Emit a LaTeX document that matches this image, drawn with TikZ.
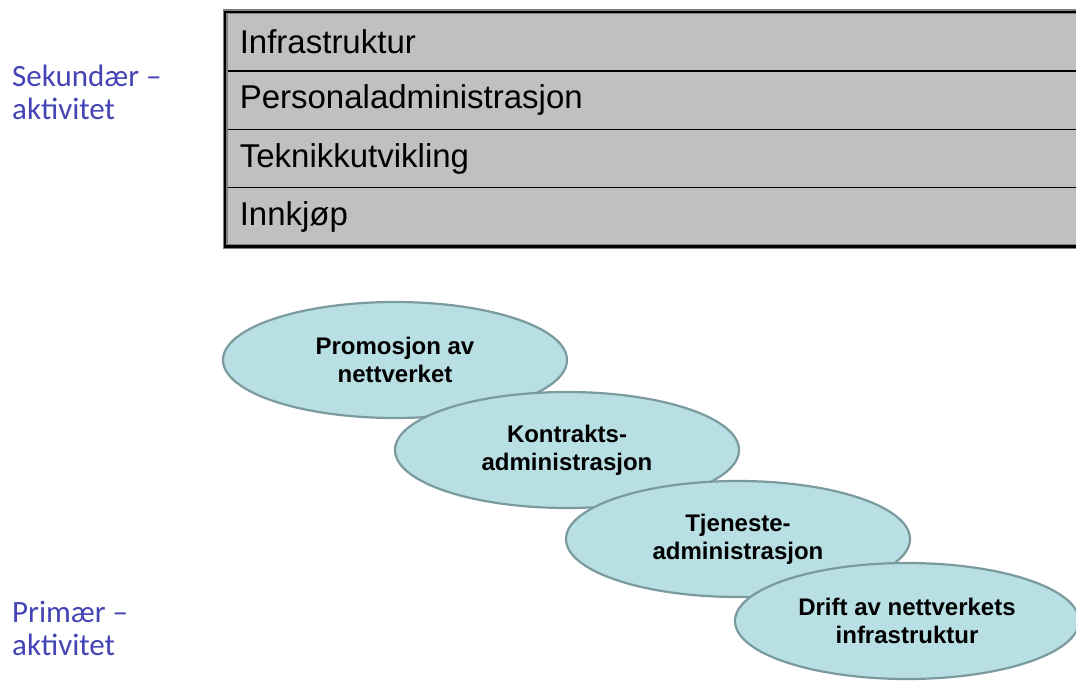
\documentclass[tikz,border=0pt]{standalone}
\usepackage{fontspec}
\setmainfont{Liberation Sans}
\newfontfamily\labelfont{Carlito}
\usetikzlibrary{shapes.geometric}

\definecolor{rowgray}{RGB}{192,192,192}
\definecolor{edgegray}{RGB}{128,128,128}
\definecolor{labelblue}{RGB}{68,68,182}
\definecolor{ovalfill}{RGB}{184,223,227}
\definecolor{ovaledge}{RGB}{122,154,158}

\tikzset{
  rowbox/.style={draw=black, line width=1.6pt, fill=rowgray, anchor=north west,
    minimum height=58.3pt, text width=880pt, inner xsep=14pt, inner ysep=0pt,
    align=left, font=\fontsize{33}{38}\selectfont},
  sidelabel/.style={anchor=north west, inner sep=0pt, align=left, text=labelblue,
    font=\labelfont\fontsize{31}{33}\selectfont},
  activity/.style={ellipse, draw=ovaledge, line width=2.2pt, fill=ovalfill,
    minimum width=344pt, minimum height=116pt, inner sep=0pt, align=center,
    font=\bfseries\fontsize{24}{28}\selectfont}
}

\begin{document}
\begin{tikzpicture}[x=1pt, y=-1pt]
  \clip (0,0) rectangle (1076,684);
  \fill[white] (0,0) rectangle (1076,684);

  % support activities
  \node[rowbox] (infra) at (225,12) {Infrastruktur};
  \node[rowbox] (hr)    at (225,70.3) {Personaladministrasjon};
  \node[rowbox] (tech)  at (225,128.6) {Teknikkutvikling};
  \node[rowbox] (buy)   at (225,186.9) {Innkjøp};
  \draw[edgegray, line width=5pt] (infra.north east) -- (infra.north west) -- (buy.south west) -- (buy.south east);
  \draw[black, line width=2.8pt] (infra.north east) -- (infra.north west) -- (buy.south west) -- (buy.south east);

  % side labels
  \node[sidelabel] (sek) at (12,65) {Sekundær –\\aktivitet};
  \node[sidelabel] (prim) at (12,601) {Primær –\\aktivitet};

  % primary activities
  \node[activity] (promo)  at (395,360) {Promosjon av\\nettverket};
  \node[activity] (kontr)  at (567,450) {Kontrakts-\\administrasjon};
  \node[activity] (tjen)   at (738,539) {Tjeneste-\\administrasjon};
  \node[activity] (drift)  at (907,621) {Drift av nettverkets\\infrastruktur};
\end{tikzpicture}
\end{document}
